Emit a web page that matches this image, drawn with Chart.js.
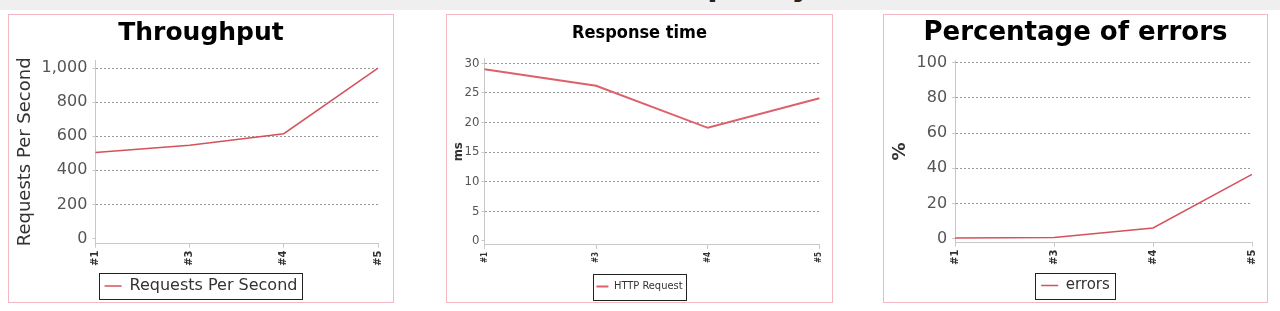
<!DOCTYPE html>
<html>
<head>
<meta charset="utf-8">
<script src="https://cdn.jsdelivr.net/npm/chart.js@4.4.1/dist/chart.umd.min.js"></script>
<style>
  body { margin: 0; width: 1280px; height: 311px; background: #fff; overflow: hidden; position: relative; font-family: "DejaVu Sans", sans-serif; }
  .band { position: absolute; left: 0; top: 0; width: 1280px; height: 10px; background: #efefef; overflow: hidden; }
  .band span { position: absolute; left: 665px; top: -29px; font: bold 30px/30px "DejaVu Sans", sans-serif; color: #222; white-space: nowrap; }
  .panel { position: absolute; top: 14px; height: 289px; box-sizing: border-box; border: 1px solid #f2b9c4; background: #fff; }
  .panel canvas { display: block; }
</style>
</head>
<body>
<div class="band"><span>Capacity</span></div>
<div class="panel" style="left:8px;width:386px"><canvas id="throughput" width="384" height="287"></canvas></div>
<div class="panel" style="left:446px;width:387px"><canvas id="responseTime" width="385" height="287"></canvas></div>
<div class="panel" style="left:883px;width:385px"><canvas id="errors" width="383" height="287"></canvas></div>
<script>
// dữ liệu
const builds = ["#1", "#3", "#4", "#5"];
const throughputValues = [505, 547, 615, 1000];
const responseValues = [29, 26.2, 19.1, 24.1];
const errorValues = [0.3, 0.7, 6.1, 36.5];

const throughputTicks = [0, 200, 400, 600, 800, 1000];
const responseTicks = [0, 5, 10, 15, 20, 25, 30];
const errorTicks = [0, 20, 40, 60, 80, 100];

const lineRed = "rgb(212, 82, 92)";
const narrow = '"DejaVu Sans Condensed", "DejaVu Sans", sans-serif';

// khung đen quanh chú thích
const legendBoxPlugin = {
  id: "legendBox",
  afterDraw(chart, args, opts) {
    const box = chart.legend.legendHitBoxes[0];
    if (!box) return;
    const ctx = chart.ctx;
    const l = Math.round(box.left - opts.padL) + 0.5;
    const r = Math.round(box.left + box.width + opts.padR) + 0.5;
    const t = Math.round(box.top - opts.padY) + 0.5;
    const b = Math.round(box.top + box.height + opts.padY) + 0.5;
    ctx.save();
    ctx.strokeStyle = "#222";
    ctx.lineWidth = 1;
    ctx.strokeRect(l, t, r - l, b - t);
    ctx.restore();
  },
};

function makeChart(id, s) {
  return new Chart(document.getElementById(id), {
    type: "line",
    data: {
      labels: builds,
      datasets: [
        {
          label: s.label,
          data: s.data,
          borderColor: s.color || lineRed,
          borderWidth: s.lineWidth || 1.5,
          pointRadius: 0,
          tension: 0,
        },
      ],
    },
    options: {
      responsive: false,
      animation: false,
      layout: { padding: s.padding },
      plugins: {
        title: {
          display: true,
          text: s.title,
          color: "#000",
          font: { family: s.titleFont, size: s.titleSize, weight: "bold", lineHeight: 1.2 },
          padding: { top: s.titleTop, bottom: s.titleGap },
        },
        legend: {
          position: "bottom",
          labels: {
            usePointStyle: true,
            pointStyle: "line",
            pointStyleWidth: s.legendLine,
            boxHeight: 8,
            color: "#333",
            font: { family: s.font, size: s.legendSize },
            padding: s.legendPad,
          },
        },
        legendBox: s.legendBox,
        tooltip: { enabled: false },
      },
      scales: {
        x: {
          offset: false,
          border: { color: "#c8c8c8" },
          grid: { drawOnChartArea: false, tickLength: 4, color: "#c8c8c8" },
          ticks: {
            minRotation: 90,
            maxRotation: 90,
            padding: 3,
            color: "#333",
            font: { family: s.font, size: s.xTickSize, weight: "bold" },
          },
        },
        y: {
          min: s.min,
          max: s.max,
          afterBuildTicks: (axis) => {
            axis.ticks = s.ticks.map((v) => ({ value: v }));
          },
          border: { color: "#c8c8c8", dash: [2, 2] },
          grid: {
            color: (c) => (c.tick && c.tick.value > 0 ? "#999" : "transparent"),
            tickLength: 3,
            tickColor: "#c8c8c8",
          },
          ticks: {
            padding: s.tickPad,
            color: "#555",
            font: { family: s.font, size: s.yTickSize },
          },
          title: {
            display: true,
            text: s.yTitle,
            color: "#333",
            font: { family: s.font, size: s.yTitleSize, weight: s.yTitleWeight },
            padding: s.yTitlePad,
          },
        },
      },
    },
    plugins: [legendBoxPlugin],
  });
}

makeChart("throughput", {
  title: "Throughput",
  label: "Requests Per Second",
  data: throughputValues,
  ticks: throughputTicks,
  min: -30,
  max: 1047,
  font: "DejaVu Sans",
  titleFont: "DejaVu Sans",
  titleSize: 25,
  titleTop: 3,
  titleGap: 12,
  legendSize: 16,
  legendLine: 17,
  legendPad: 9,
  legendBox: { padL: 6, padR: 5, padY: 5 },
  xTickSize: 10,
  yTickSize: 16,
  tickPad: 5,
  yTitle: "Requests Per Second",
  yTitleSize: 18,
  yTitleWeight: "normal",
  yTitlePad: { top: 9, bottom: 0 },
  padding: { left: -3, right: -3, top: 0, bottom: -2 },
});

makeChart("responseTime", {
  title: "Response time",
  label: "HTTP Request",
  data: responseValues,
  ticks: responseTicks,
  min: -0.7,
  max: 30.8,
  color: "rgb(222, 96, 106)",
  lineWidth: 2,
  font: narrow,
  titleFont: narrow,
  titleSize: 18,
  titleTop: 8,
  titleGap: 14,
  legendSize: 11,
  legendLine: 12,
  legendPad: 15,
  legendBox: { padL: 3, padR: 3, padY: 7.5 },
  xTickSize: 8,
  yTickSize: 13,
  tickPad: 2,
  yTitle: "ms",
  yTitleSize: 13,
  yTitleWeight: "bold",
  yTitlePad: { top: 5, bottom: -4 },
  padding: { left: -1, right: -1, top: 0, bottom: 0 },
});

makeChart("errors", {
  title: "Percentage of errors",
  label: "errors",
  data: errorValues,
  ticks: errorTicks,
  min: -2.3,
  max: 101.5,
  font: "DejaVu Sans",
  titleFont: "DejaVu Sans",
  titleSize: 26,
  titleTop: 3,
  titleGap: 11,
  legendSize: 15,
  legendLine: 17,
  legendPad: 10,
  legendBox: { padL: 6, padR: 5, padY: 5.5 },
  xTickSize: 10,
  yTickSize: 16,
  tickPad: 5,
  yTitle: "%",
  yTitleSize: 18,
  yTitleWeight: "bold",
  yTitlePad: { top: 7, bottom: 0 },
  padding: { left: -1, right: -1, top: 0, bottom: -1 },
});
</script>
</body>
</html>
